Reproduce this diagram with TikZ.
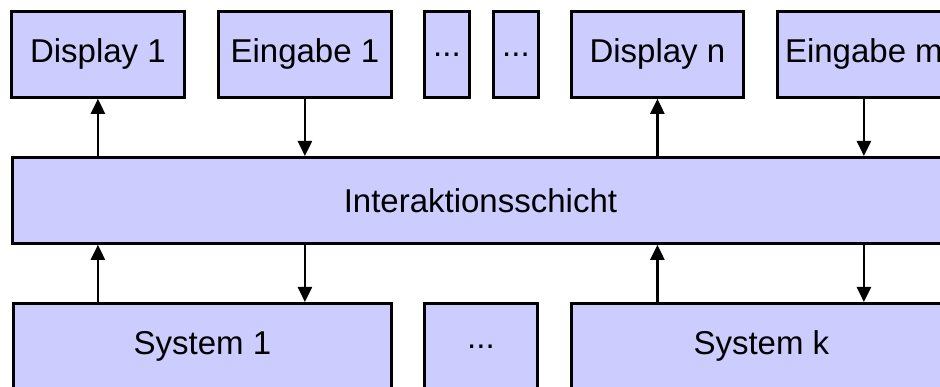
\documentclass[tikz,border=0pt]{standalone}
\usepackage{fontspec}
\setmainfont{Liberation Sans}
\usetikzlibrary{arrows.meta}
\definecolor{boxblue}{RGB}{204,204,255}

\begin{document}
\begin{tikzpicture}[x=1pt,y=-1pt,
  box/.style={draw,line width=2.8pt,fill=boxblue,anchor=north west,inner sep=0pt,minimum height=86pt,font=\fontsize{33}{40}\selectfont},
  arr/.style={line width=2.4pt,-{Triangle[length=15pt,width=14pt]}}]
\useasboundingbox (0,0) rectangle (940,387);
\clip (0,0) rectangle (940,387);
% top row
\node[box,minimum width=173pt] (disp1) at (10,10) {Display 1};
\node[box,minimum width=173pt] (ein1) at (217,10) {Eingabe 1};
\node[box,minimum width=45pt] (dots1) at (423,10) {...};
\node[box,minimum width=45pt] (dots2) at (492,10) {...};
\node[box,minimum width=172pt] (dispn) at (570,10) {Display n};
\node[box,minimum width=173pt] (einm) at (776,10) {Eingabe m};
% middle layer
\node[box,minimum width=936pt] (inter) at (11,156) {Interaktionsschicht};
% bottom row
\node[box,minimum width=378pt] (sys1) at (12,302) {System 1};
\node[box,minimum width=113pt] (sysdots) at (423,302) {...};
\node[box,minimum width=380pt] (sysk) at (570,302) {System k};
% arrows
\draw[arr] (inter.north -| disp1) -- (disp1.south);
\draw[arr] (ein1.south) -- (inter.north -| ein1);
\draw[arr] (inter.north -| dispn) -- (dispn.south);
\draw[arr] (einm.south) -- (inter.north -| einm);
\draw[arr] (sys1.north -| disp1) -- (inter.south -| disp1);
\draw[arr] (inter.south -| ein1) -- (sys1.north -| ein1);
\draw[arr] (sysk.north -| dispn) -- (inter.south -| dispn);
\draw[arr] (inter.south -| einm) -- (sysk.north -| einm);
\end{tikzpicture}
\end{document}
